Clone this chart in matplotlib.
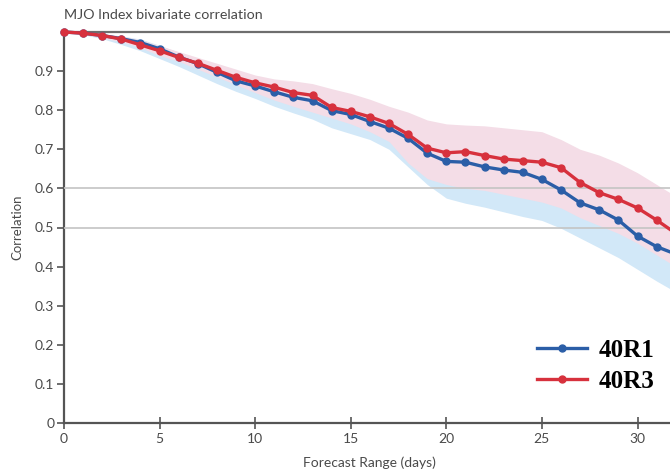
import matplotlib
matplotlib.use("Agg")
import matplotlib.pyplot as plt

plt.rcParams['font.family'] = ['Lato', 'DejaVu Sans']

# Forecast day
days = list(range(0, 33))

# 40R1 (blue) correlation
r1 = [1.0, 0.997, 0.991, 0.983, 0.973, 0.957, 0.936, 0.919, 0.897, 0.875,
      0.862, 0.847, 0.833, 0.824, 0.799, 0.789, 0.771, 0.754, 0.728, 0.690,
      0.669, 0.667, 0.655, 0.647, 0.641, 0.623, 0.596, 0.563, 0.545, 0.519,
      0.478, 0.451, 0.432]
r1_lo = [1.0, 0.993, 0.983, 0.968, 0.952, 0.932, 0.912, 0.890, 0.868, 0.848,
         0.830, 0.810, 0.793, 0.777, 0.755, 0.740, 0.725, 0.700, 0.655, 0.610,
         0.575, 0.562, 0.552, 0.540, 0.528, 0.518, 0.498, 0.473, 0.448, 0.423,
         0.393, 0.363, 0.335]
r1_hi = [1.0, 1.0, 0.995, 0.99, 0.982, 0.966, 0.948, 0.930, 0.912, 0.895,
         0.880, 0.868, 0.860, 0.852, 0.835, 0.825, 0.805, 0.790, 0.770, 0.740,
         0.725, 0.720, 0.710, 0.700, 0.695, 0.680, 0.660, 0.635, 0.620, 0.600,
         0.570, 0.540, 0.520]

# 40R3 (red) correlation
r3 = [1.0, 0.997, 0.991, 0.982, 0.967, 0.952, 0.935, 0.920, 0.902, 0.884,
      0.870, 0.859, 0.845, 0.838, 0.807, 0.797, 0.783, 0.766, 0.738, 0.703,
      0.691, 0.694, 0.684, 0.675, 0.671, 0.667, 0.653, 0.615, 0.589, 0.572,
      0.550, 0.519, 0.485]
r3_lo = [1.0, 0.995, 0.985, 0.975, 0.960, 0.940, 0.925, 0.905, 0.885, 0.865,
         0.845, 0.826, 0.810, 0.795, 0.780, 0.765, 0.745, 0.720, 0.665, 0.625,
         0.610, 0.600, 0.595, 0.585, 0.575, 0.565, 0.550, 0.525, 0.505, 0.485,
         0.460, 0.430, 0.400]
r3_hi = [1.0, 1.0, 0.995, 0.99, 0.980, 0.965, 0.950, 0.935, 0.920, 0.905,
         0.890, 0.880, 0.875, 0.868, 0.855, 0.843, 0.828, 0.810, 0.795, 0.775,
         0.765, 0.762, 0.760, 0.755, 0.750, 0.745, 0.725, 0.700, 0.685, 0.665,
         0.640, 0.610, 0.580]

yticks = [0, 0.1, 0.2, 0.3, 0.4, 0.5, 0.6, 0.7, 0.8, 0.9]
ytick_labels = ['0', '0.1', '0.2', '0.3', '0.4', '0.5', '0.6', '0.7', '0.8', '0.9']
xticks = [0, 5, 10, 15, 20, 25, 30]

blue = '#2b5ea7'
red = '#d7313d'
grey = '#555555'

fig = plt.figure(figsize=(6.7, 4.75), dpi=100)
ax = fig.add_axes([64 / 670, 52 / 475, 1 - 64 / 670, 391 / 475])

# confidence bands
ax.fill_between(days, r1_lo, r1_hi, color='#d2e8f8', lw=0, zorder=1)
ax.fill_between(days, r3_lo, r3_hi, color='#f4dde7', lw=0, zorder=2)

# reference lines
for yv in [0.5, 0.6]:
    ax.axhline(yv, color='#c4c4c4', lw=1.2, zorder=3)

ax.plot(days, r1, color=blue, lw=2.4, marker='o', ms=5, label='40R1', zorder=5, clip_on=False)
ax.plot(days, r3, color=red, lw=2.4, marker='o', ms=5, label='40R3', zorder=6, clip_on=False)

ax.set_xlim(0, 31.7)
ax.set_ylim(0, 1.0)
ax.set_yticks(yticks)
ax.set_yticklabels(ytick_labels)
ax.set_xticks(xticks)

for side in ['left', 'bottom']:
    ax.spines[side].set_color(grey)
    ax.spines[side].set_linewidth(1.6)
ax.spines['top'].set_color('#6e6e6e')
ax.spines['top'].set_linewidth(1.6)
ax.spines['right'].set_visible(False)

ax.tick_params(axis='y', direction='out', length=5, width=1.2, color=grey,
               labelcolor='#4a4a4a', labelsize=10, pad=2)
ax.tick_params(axis='x', direction='inout', length=8, width=1.2, color=grey,
               labelcolor='#4a4a4a', labelsize=10, pad=3)

ax.set_ylabel('Correlation', color='#4a4a4a', fontsize=9.5, labelpad=8)
ax.set_xlabel('Forecast Range (days)', color='#4a4a4a', fontsize=10, labelpad=2)
ax.xaxis.set_label_coords(16.0 / 31.7, -0.085)

fig.text(64 / 670, 1 - 15 / 475, 'MJO Index bivariate correlation',
         color='#4a4a4a', fontsize=10.3, ha='left', va='center')

ax.legend(loc='upper left', bbox_to_anchor=(537 / 670, 1 - 339 / 475),
          bbox_transform=fig.transFigure, frameon=False, borderpad=0,
          borderaxespad=0, handlelength=2.0, handletextpad=0.45,
          labelspacing=0.32,
          prop={'family': 'Liberation Serif', 'weight': 'bold', 'size': 18})

fig.savefig('out.png', dpi=100)
